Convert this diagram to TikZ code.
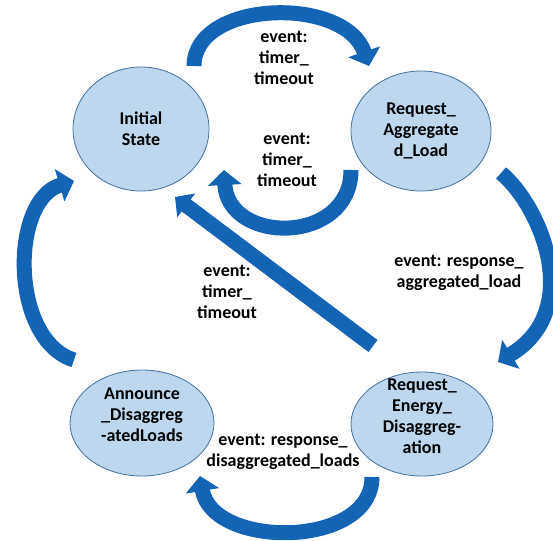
\documentclass[tikz,border=0pt]{standalone}
\usepackage{fontspec}
\setmainfont{Carlito}
\usetikzlibrary{positioning}
\usetikzlibrary{calc}
\usetikzlibrary{arrows.meta}
\usetikzlibrary{shapes.geometric}
\definecolor{stateblue}{RGB}{189,215,238}
\definecolor{stateedge}{RGB}{65,113,156}
\definecolor{arrowblue}{RGB}{20,100,182}
\tikzset{
        every node/.style={align=center,font=\bfseries\fontsize{18}{21}\selectfont},
        state/.style={ellipse,draw=stateedge,fill=stateblue,line width=0.8pt,inner sep=0pt},
        bentarrow/.style={draw=arrowblue,line width=15pt,-{Triangle[width=33pt,length=15pt]}},
        straightarrow/.style={draw=arrowblue,line width=15pt,-{Triangle[width=29pt,length=14pt]}},
        }

\begin{document}
\begin{tikzpicture}[x=1pt,y=-1pt]

		\useasboundingbox (0,0) rectangle (553,540);

		% states...................
		\node [state, minimum width=136pt, minimum height=124pt,
			label={[name=initText]center:Initial\\State}] (init) at (141,129) {};
		\node [state, minimum width=140pt, minimum height=120pt,
			label={[name=ragText]center:Request\_\\Aggregate\\d\_Load}] (rag) at (421,131) {};
		\node [state, minimum width=144pt, minimum height=106pt,
			label={[name=annText,yshift=8pt]center:Announce\\\_Disaggreg\\-atedLoads}] (ann) at (142,423) {};
		\node [state, minimum width=142pt, minimum height=104pt,
			label={[name=redText,yshift=8pt]center:Request\_\\Energy\_\\Disaggreg-\\ation}] (red) at (422,424) {};

		% top arrow....................
		\coordinate (topTail) at (194,66);
		\coordinate (topTip) at (369,66);
		\draw [bentarrow] (topTail) .. controls (194,0) and (345,-5) .. (topTip);
		\node (lblTop) at (284,58) {event:\\timer\_\\timeout};

		% inner arrow back..............
		\coordinate (midTail) at (351,170);
		\coordinate (midTip) at (224,170);
		\draw [bentarrow] (midTail) .. controls (351,245) and (228,245) .. (midTip);
		\node (lblMid) at (287,160) {event:\\timer\_\\timeout};

		% right arrow...................
		\coordinate (rightTail) at (501,173);
		\coordinate (rightTip) at (498,362);
		\draw [bentarrow] (rightTail) .. controls (540,205) and (585,310) .. (rightTip);
		\node (lblRight) at (459,273) {event: response\_\\aggregated\_load};

		% bottom arrow..................
		\coordinate (botTail) at (372,477);
		\coordinate (botTip) at (200,476);
		\draw [bentarrow] (botTail) .. controls (372,549) and (212,549) .. (botTip);
		\node (lblBottom) at (283,452) {event: response\_\\disaggregated\_loads};

		% left arrow....................
		\coordinate (leftTail) at (74,360);
		\coordinate (leftTip) at (74,181);
		\draw [bentarrow] (leftTail) .. controls (10,340) and (10,200) .. (leftTip);

		% diagonal arrow................
		\coordinate (diagTail) at (373,346);
		\coordinate (diagTip) at (175,197);
		\draw [straightarrow] (diagTail) -- (diagTip);
		\node (lblDiag) at (227,292) {event:\\timer\_\\timeout};

	\end{tikzpicture}
\end{document}
